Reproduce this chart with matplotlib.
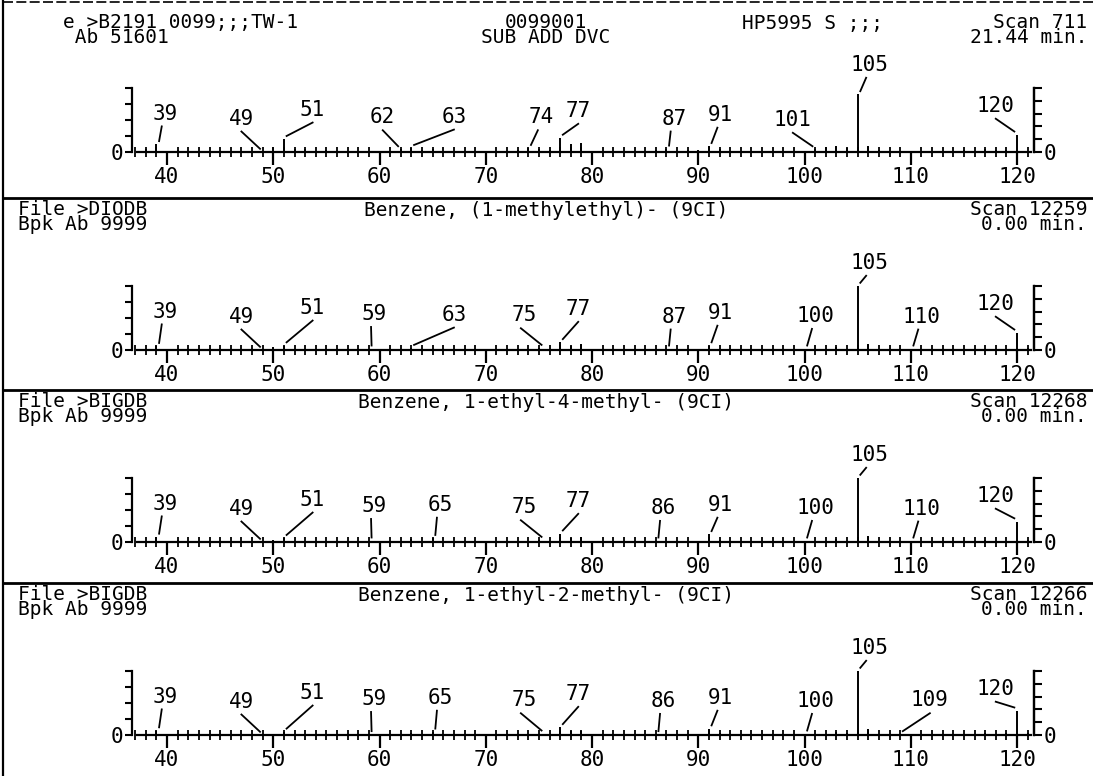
import numpy as np
import matplotlib
matplotlib.use("Agg")
import matplotlib.pyplot as plt
from matplotlib.ticker import MultipleLocator, FixedLocator

W, H = 1093, 776
MONO = "DejaVu Sans Mono"

# ---- data: header texts ----
hdr_left = ["e >B2191 0099;;;TW-1\n Ab 51601", "File >DIODB\nBpk Ab 9999",
            "File >BIGDB\nBpk Ab 9999", "File >BIGDB\nBpk Ab 9999"]
hdr_mid = ["0099001\nSUB ADD DVC", "Benzene, (1-methylethyl)- (9CI)",
           "Benzene, 1-ethyl-4-methyl- (9CI)", "Benzene, 1-ethyl-2-methyl- (9CI)"]
hdr_inst = "HP5995 S ;;;"
hdr_scan = ["Scan 711\n21.44 min.", "Scan 12259\n0.00 min.",
            "Scan 12268\n0.00 min.", "Scan 12266\n0.00 min."]

# ---- data: spectra (m/z, relative abundance) ----
p1_mz = [38, 39, 41, 43, 45, 50, 51, 52, 53, 55, 57, 58, 61, 62, 63, 64, 65, 66, 73, 74, 75, 76,
         77, 78, 79, 86, 87, 89, 90, 91, 92, 93, 98, 101, 102, 103, 104, 105, 106, 107, 115, 116,
         117, 118, 119, 120]
p1_ab = [4, 12, 3, 2, 2, 8, 20, 4, 4, 3, 2, 2, 2, 4, 6, 3, 4, 2, 3, 6, 4, 3,
         22, 12, 14, 3, 5, 3, 3, 9, 4, 2, 2, 4, 8, 10, 6, 90, 10, 3, 3, 2,
         4, 3, 3, 27]
p1_lab = [39, 49, 51, 62, 63, 74, 77, 87, 91, 101, 105, 120]

p2_mz = [38, 39, 40, 41, 43, 50, 51, 52, 53, 55, 58, 59, 62, 63, 64, 65, 74, 75, 76, 77, 78, 79,
         85, 86, 87, 89, 90, 91, 92, 93, 100, 102, 103, 104, 105, 106, 107, 110, 115, 116, 117,
         118, 119, 120, 121]
p2_ab = [2, 6, 1, 2, 1, 4, 7, 2, 2, 1, 1, 2, 1, 3, 1, 2, 2, 3, 2, 12, 7, 9,
         1, 1, 2, 2, 1, 7, 2, 1, 2, 2, 4, 2, 100, 9, 1, 2, 2, 1, 2,
         1, 2, 27, 3]
p2_lab = [39, 49, 51, 59, 63, 75, 77, 87, 91, 100, 105, 110, 120]

p3_mz = [38, 39, 41, 50, 51, 52, 53, 59, 62, 63, 65, 74, 75, 76, 77, 78, 79, 86, 89, 91, 92,
         100, 102, 103, 104, 105, 106, 110, 115, 117, 119, 120, 121]
p3_ab = [2, 8, 3, 3, 6, 2, 2, 2, 2, 4, 6, 2, 3, 2, 13, 6, 8, 2, 2, 12, 3,
         2, 2, 5, 2, 100, 10, 2, 2, 3, 2, 32, 3]
p3_lab = [39, 49, 51, 59, 65, 75, 77, 86, 91, 100, 105, 110, 120]

p4_mz = [38, 39, 41, 50, 51, 52, 53, 59, 62, 63, 65, 74, 75, 76, 77, 78, 79, 86, 89, 91, 92,
         100, 102, 103, 104, 105, 106, 109, 115, 117, 119, 120, 121]
p4_ab = [2, 7, 2, 2, 5, 2, 2, 1, 1, 3, 5, 1, 2, 2, 12, 6, 7, 1, 2, 10, 3,
         2, 2, 4, 3, 100, 10, 1, 2, 3, 3, 38, 3]
p4_lab = [39, 49, 51, 59, 65, 75, 77, 86, 91, 100, 105, 109, 120]

spectra = [(p1_mz, p1_ab, p1_lab), (p2_mz, p2_ab, p2_lab),
           (p3_mz, p3_ab, p3_lab), (p4_mz, p4_ab, p4_lab)]

# ---- layout: where each peak label sits relative to its peak (m/z shift, height) ----
lab_pos = {
    39: (0.8, 60), 49: (-2.0, 52), 51: (2.7, 66), 59: (0.5, 56), 62: (-1.7, 54),
    63: (4.0, 55), 65: (0.7, 58), 74: (1.2, 54), 75: (-1.4, 54), 77: (1.7, 64),
    86: (0.7, 53), 87: (0.7, 52), 91: (1.1, 58), 100: (1.0, 53), 101: (-2.1, 50),
    105: (1.1, 136), 109: (2.8, 54), 110: (1.0, 52), 120: (-2.0, 72),
}

panel_top = [0, 198, 390, 583]
XL, XR = 36.7, 121.6
ax_left, ax_right = 132, 1034

fig = plt.figure(figsize=(W / 100, H / 100), dpi=100)


def fx(x):
    return x / W


def fy(y):
    return 1 - y / H


for i, (mz, ab, labs) in enumerate(spectra):
    T = panel_top[i]
    base = T + 152
    ax = fig.add_axes([fx(ax_left), fy(base), (ax_right - ax_left) / W, 96 / H])
    ax.set_xlim(XL, XR)
    ax.set_ylim(0, 150)
    ax.patch.set_alpha(0)

    ax.vlines(mz, 0, ab, color="black", lw=1.4)
    pk = dict(zip(mz, ab))
    for m in labs:
        dx, ly = lab_pos[m]
        lx = m + dx
        ax.text(lx, ly, str(m), ha="center", va="center", family=MONO, fontsize=15)
        s = np.sign(dx) if abs(dx) > 1.5 else 1
        ax.plot([lx - 0.3 * (abs(dx) <= 1.5), m + 0.25 * s], [ly - 20, pk.get(m, 0) + 5],
                color="black", lw=1.3)

    # spines
    ax.spines["top"].set_visible(False)
    ax.spines["left"].set_bounds(0, 100)
    ax.spines["right"].set_bounds(0, 100)
    ax.spines["bottom"].set_bounds(37.2, 121.3)
    for side in ["left", "right", "bottom"]:
        ax.spines[side].set_linewidth(1.6)

    ax.xaxis.set_major_locator(MultipleLocator(10))
    ax.xaxis.set_minor_locator(MultipleLocator(1))
    ax.tick_params(axis="x", which="major", direction="out", length=9, width=1.6,
                   labelsize=15, pad=2)
    ax.tick_params(axis="x", which="minor", direction="inout", length=7, width=1.3)
    ax.set_xticks(list(range(40, 121, 10)))
    for t in ax.get_xticklabels():
        t.set_family(MONO)

    ax.yaxis.set_major_locator(FixedLocator([0, 25, 50, 75, 100]))
    ax.set_yticklabels(["0", "", "", "", ""])
    ax.tick_params(axis="y", which="major", direction="out", length=5, width=1.5,
                   labelsize=15, pad=1)
    for t in ax.get_yticklabels():
        t.set_family(MONO)

    axr = ax.twinx()
    axr.set_ylim(0, 150)
    axr.patch.set_alpha(0)
    for side in ["top", "left", "bottom"]:
        axr.spines[side].set_visible(False)
    axr.spines["right"].set_bounds(0, 100)
    axr.spines["right"].set_linewidth(1.6)
    axr.yaxis.set_major_locator(FixedLocator([0, 20, 40, 60, 80, 100]))
    axr.set_yticklabels(["0", "", "", "", "", ""])
    axr.tick_params(axis="y", direction="out", length=6, width=1.5, labelsize=15, pad=1)
    for t in axr.get_yticklabels():
        t.set_family(MONO)

    # header texts (two lines each, one text object)
    yc = 30 if i == 0 else T + 19
    tk = dict(family=MONO, fontsize=14, va="center", linespacing=0.78)
    fig.text(fx(63 if i == 0 else 18), fy(yc), hdr_left[i], ha="left", **tk)
    if i == 0:
        fig.text(fx(546), fy(yc), hdr_mid[i], ha="center", multialignment="center", **tk)
        fig.text(fx(742), fy(yc - 6.5), hdr_inst, ha="left", **tk)
    else:
        fig.text(fx(546), fy(yc - 6.5), hdr_mid[i], ha="center", **tk)
    fig.text(fx(1087), fy(yc), hdr_scan[i], ha="right", multialignment="right", **tk)

# page frame lines
for y in panel_top[1:]:
    fig.add_artist(plt.Line2D([fx(3), 1], [fy(y), fy(y)], color="black", lw=2))
fig.add_artist(plt.Line2D([fx(3), fx(3)], [0, 1], color="black", lw=1.6))
fig.add_artist(plt.Line2D([fx(3), 1], [fy(2), fy(2)], color="black", lw=1.2, ls=(0, (6, 2))))

fig.savefig("out.png", dpi=100, facecolor="white")
